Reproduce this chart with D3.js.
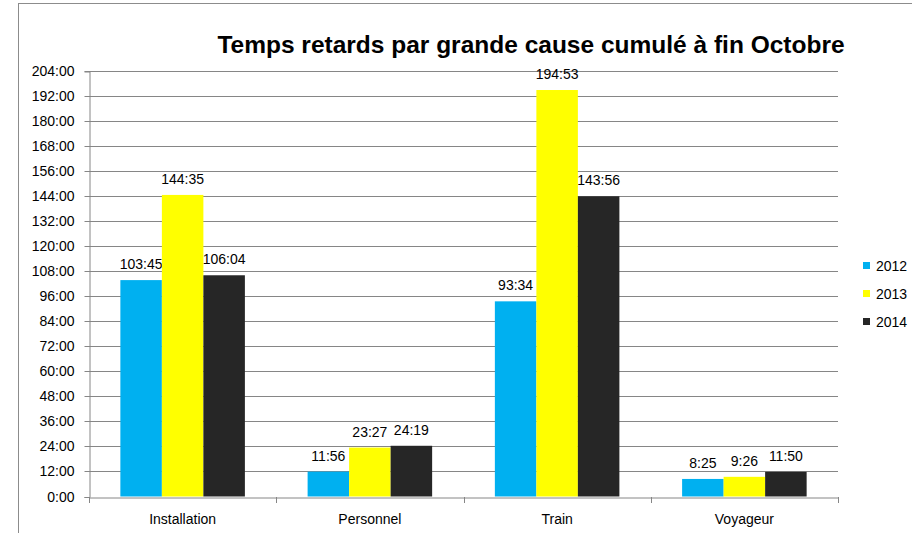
<!DOCTYPE html>
<html><head><meta charset="utf-8">
<script src="https://cdn.jsdelivr.net/npm/d3@7"></script>
<style>html,body{margin:0;padding:0;background:#fff;}svg{display:block;}</style>
</head><body>
<svg id="chart" width="912" height="533"></svg>
<script>
const title = "Temps retards par grande cause cumulé à fin Octobre";
const categories = ["Installation", "Personnel", "Train", "Voyageur"];
const seriesNames = ["2012", "2013", "2014"];
// values in minutes (h:mm)
const values2012 = [6225, 716, 5614, 505];   // 103:45, 11:56, 93:34, 8:25
const values2013 = [8675, 1407, 11693, 566]; // 144:35, 23:27, 194:53, 9:26
const values2014 = [6364, 1459, 8636, 710];  // 106:04, 24:19, 143:56, 11:50
const colors = ["#00B0F0", "#FFFF00", "#262626"];
const yTicks = d3.range(0, 205, 12); // hours

const series = [values2012, values2013, values2014];
const fmt = m => Math.floor(m / 60) + ":" + String(m % 60).padStart(2, "0");
const font = "'Liberation Sans', Arial, sans-serif";

const svg = d3.select("#chart");
svg.append("rect").attr("x", 18.5).attr("y", 3.5).attr("width", 1000).attr("height", 1000)
  .attr("fill", "none").attr("stroke", "#8c8c8c").attr("stroke-width", 1);

const L = 89, R = 838, T = 71, B = 496.5;
const y = d3.scaleLinear().domain([0, 204 * 60]).range([B, T]);
const x = d3.scaleBand().domain(categories).range([L, R]).padding(0);
const bw = x.bandwidth();
const groupW = bw * 0.665;
const xs = d3.scaleBand().domain(seriesNames).range([(bw - groupW) / 2, (bw + groupW) / 2]).padding(0);

// gridlines
svg.append("g").selectAll("line").data(yTicks.slice(1)).join("line")
  .attr("x1", L).attr("x2", R)
  .attr("y1", d => Math.round(y(d * 60)) + 0.5).attr("y2", d => Math.round(y(d * 60)) + 0.5)
  .attr("stroke", "#868686").attr("stroke-width", 1);

// y axis
const yAxis = d3.axisLeft(y).tickValues(yTicks.map(h => h * 60)).tickFormat(m => fmt(m)).tickSizeOuter(0).tickSize(5).tickPadding(10);
const gy = svg.append("g").attr("transform", `translate(${L + 0.5},0.5)`).call(yAxis);
gy.selectAll("path,line").attr("stroke", "#868686");
gy.selectAll("text").attr("font-family", font).attr("font-size", 14).attr("fill", "#000");
gy.selectAll(".tick").attr("transform", d => `translate(0,${Math.round(y(d))})`);

// bars
categories.forEach((c, i) => {
  series.forEach((s, j) => {
    const bx = x(c) + xs(seriesNames[j]);
    svg.append("rect").attr("x", bx).attr("y", y(s[i])).attr("width", xs.bandwidth())
      .attr("height", y(0) - y(s[i])).attr("fill", colors[j]);
    svg.append("text").attr("x", bx + xs.bandwidth() / 2).attr("y", y(s[i]) - 11)
      .attr("text-anchor", "middle").attr("font-family", font).attr("font-size", 14)
      .attr("fill", "#000").text(fmt(s[i]));
  });
});

// x axis
const xAxis = d3.axisBottom(x).tickSize(0).tickSizeOuter(0);
const gx = svg.append("g").attr("transform", `translate(0,${Math.round(B) + 0.5})`).call(xAxis);
gx.select("path").attr("stroke", "#868686");
gx.selectAll("text").attr("font-family", font).attr("font-size", 14).attr("fill", "#000").attr("dy", null).attr("y", 26);
const bounds = d3.range(categories.length + 1).map(k => L + k * bw);
svg.append("g").selectAll("line").data(bounds).join("line")
  .attr("x1", d => Math.round(d) + 0.5).attr("x2", d => Math.round(d) + 0.5)
  .attr("y1", Math.round(B)).attr("y2", Math.round(B) + 6).attr("stroke", "#868686");

// title
svg.append("text").attr("x", 531).attr("y", 53).attr("text-anchor", "middle")
  .attr("font-family", font).attr("font-weight", "bold").attr("font-size", 24.5).attr("fill", "#000").text(title);

// legend
const lg = svg.append("g");
seriesNames.forEach((n, j) => {
  const ly = 266 + j * 28;
  lg.append("rect").attr("x", 863).attr("y", ly - 4).attr("width", 7).attr("height", 7).attr("fill", colors[j]);
  lg.append("text").attr("x", 876).attr("y", ly + 5).attr("font-family", font).attr("font-size", 14).attr("fill", "#000").text(n);
});
</script>
</body></html>
